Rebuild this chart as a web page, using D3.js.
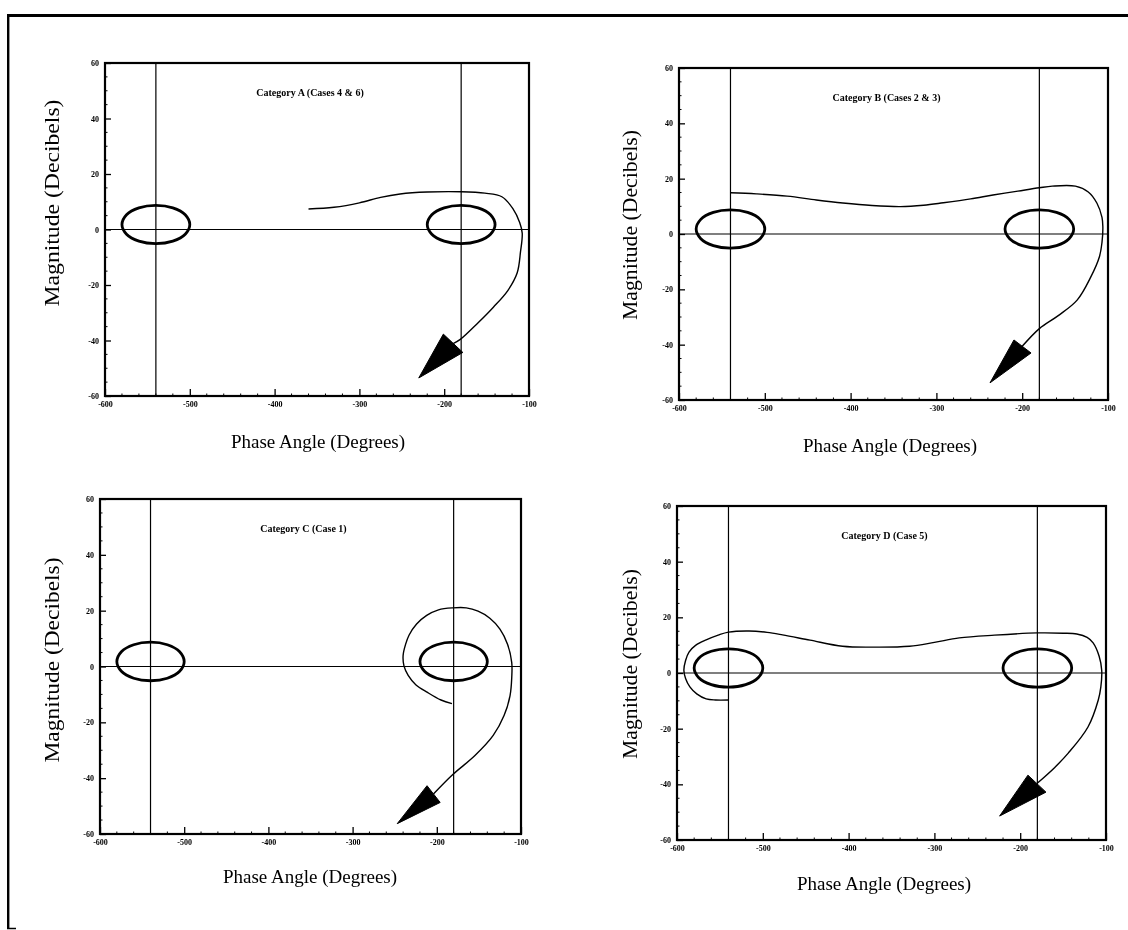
<!DOCTYPE html>
<html>
<head>
<meta charset="utf-8">
<script src="https://cdn.jsdelivr.net/npm/d3@7"></script>
<style>
  html, body { margin: 0; padding: 0; background: #fff; }
  svg { display: block; filter: grayscale(1); }
  .tick text { font-family: "Liberation Serif", "DejaVu Serif", serif; font-weight: bold; font-size: 8px; fill: #000; }
  .tick line { stroke: #000; stroke-width: 1.3; }
  .domain { display: none; }
</style>
</head>
<body>
<svg id="chart" width="1128" height="930"></svg>
<script>
// Nichols-style loci, magnitude (dB) versus phase angle (deg), four categories

const phaseTicks = [-600, -500, -400, -300, -200, -100];
const magTicks = [-60, -40, -20, 0, 20, 40, 60];
const phaseDomain = [-600, -100];
const magDomain = [-60, 60];

// reference lines at the critical phases and 0 dB
const gridPhases = [-540, -180];
const gridMags = [0];

// closed-loop M contour around each critical point, as (phase offset, dB)
const contourCenters = [-540, -180];
const mContour = [
  [-40, 1.8], [-34.6, 5.3], [-20, 7.8], [0, 8.7], [20, 7.8], [34.6, 5.3],
  [40, 1.8], [34.6, -1.7], [20, -4.2], [0, -5.1], [-20, -4.2], [-34.6, -1.7]
];

const titles = [
  "Category A (Cases 4 & 6)",
  "Category B (Cases 2 & 3)",
  "Category C (Case 1)",
  "Category D (Case 5)"
];

// open-loop loci, [phase deg, magnitude dB]
const locusA = [
  [-360, 7.4], [-330, 8.0], [-300, 9.6], [-275, 11.6], [-252, 12.8], [-220, 13.5],
  [-180, 13.6], [-152, 13.1], [-132, 11.8], [-119, 7.5], [-111, 2.5], [-108, -1.3],
  [-110, -8], [-114, -15.7], [-125, -22], [-142, -28], [-160, -33.6], [-181, -39.6],
  [-190, -41.2]
];
const locusB = [
  [-540, 14.9], [-510, 14.5], [-474, 13.7], [-440, 12.3], [-409, 11.2], [-375, 10.3],
  [-342, 9.9], [-315, 10.4], [-292, 11.3], [-260, 12.7], [-234, 14.1], [-205, 15.5],
  [-180, 16.7], [-165, 17.3], [-138, 17.3], [-123, 15.2], [-113, 11.2], [-107, 6],
  [-106, 2.6], [-107, -3], [-110, -8.2], [-120, -15.5], [-136, -23.9], [-158, -29.5],
  [-180, -34.2], [-200, -40.6]
];
const locusC = [
  [-182, -13.3], [-195, -12], [-211, -9.3], [-225, -6.5], [-234, -3.2], [-239, 0.2],
  [-240, 4], [-237, 8], [-233, 11.2], [-224, 15.2], [-212, 18.3], [-198, 20.3],
  [-181, 21], [-165, 21], [-151, 19.8], [-137, 17.3], [-125, 13.4], [-116, 8],
  [-111, 1.4], [-111, -4], [-113, -10.4], [-120, -17.5], [-133, -24.7], [-155, -32],
  [-181, -38.7], [-204, -45.7]
];
const locusD = [
  [-540, -9.7], [-555, -9.7], [-566, -9.3], [-577, -7.5], [-585, -5], [-590, -2],
  [-592, 1], [-590, 4.5], [-586, 7.5], [-578, 10], [-566, 11.9], [-552, 13.6],
  [-540, 14.7], [-516, 15.1], [-495, 14.6], [-477, 13.7], [-445, 11.8], [-407, 9.6],
  [-370, 9.3], [-329, 9.6], [-300, 11], [-271, 12.6], [-230, 13.6], [-180, 14.4],
  [-150, 14.3], [-134, 14], [-122, 12.8], [-115, 10.8], [-108, 6], [-105, 1],
  [-106, -5], [-109, -9.7], [-121, -19.4], [-144, -28.8], [-160, -34], [-180.5, -39.7]
];

// arrowheads: tip, then the two base corners
const arrowA = [[-230, -53.5], [-201, -37.7], [-178, -44.3]];
const arrowB = [[-237.5, -53.8], [-209.6, -38.3], [-189.7, -43]];
const arrowC = [[-247, -56.3], [-211.6, -42.7], [-196, -48.7]];
const arrowD = [[-224, -51.4], [-191, -36.7], [-170, -42.8]];

const loci = [locusA, locusB, locusC, locusD];
const arrows = [arrowA, arrowB, arrowC, arrowD];

// panel frames and label placement
const panels = [
  { left: 105, right: 529, top: 63, bottom: 396, yl: [52, 203, 207], xl: [318, 441] },
  { left: 679, right: 1108, top: 68, bottom: 400, yl: [630, 225, 190], xl: [890, 445] },
  { left: 100, right: 521, top: 499, bottom: 834, yl: [52, 660, 205], xl: [310, 876] },
  { left: 677, right: 1106, top: 506, bottom: 840, yl: [630, 664, 190], xl: [884, 883] }
];

const svg = d3.select("#chart");
const serif = '"Liberation Serif", "DejaVu Serif", serif';
const fmt = d => String(d);

// outer page border
svg.append("line").attr("x1", 7).attr("x2", 1128).attr("y1", 15.5).attr("y2", 15.5)
  .attr("stroke", "#000").attr("stroke-width", 3);
svg.append("line").attr("x1", 8.2).attr("x2", 8.2).attr("y1", 14).attr("y2", 929)
  .attr("stroke", "#000").attr("stroke-width", 2.4);
svg.append("line").attr("x1", 7).attr("x2", 16).attr("y1", 928.5).attr("y2", 928.5)
  .attr("stroke", "#000").attr("stroke-width", 1.5);

panels.forEach((p, i) => {
  const x = d3.scaleLinear().domain(phaseDomain).range([p.left, p.right]);
  const y = d3.scaleLinear().domain(magDomain).range([p.bottom, p.top]);
  const g = svg.append("g");

  // minor ticks
  const minorX = d3.range(phaseDomain[0] + 20, phaseDomain[1], 20).filter(v => v % 100 !== 0);
  const minorY = d3.range(magDomain[0] + 5, magDomain[1], 5).filter(v => v % 20 !== 0);
  g.selectAll(".mx").data(minorX).join("line")
    .attr("x1", d => x(d)).attr("x2", d => x(d))
    .attr("y1", p.bottom).attr("y2", p.bottom - 2.5)
    .attr("stroke", "#000").attr("stroke-width", 1);
  g.selectAll(".my").data(minorY).join("line")
    .attr("y1", d => y(d)).attr("y2", d => y(d))
    .attr("x1", p.left).attr("x2", p.left + 2.5)
    .attr("stroke", "#000").attr("stroke-width", 1);

  // axes with inward ticks
  g.append("g").attr("transform", `translate(0,${p.bottom})`)
    .call(d3.axisBottom(x).tickValues(phaseTicks).tickFormat(fmt).tickSize(-7).tickPadding(5));
  g.append("g").attr("transform", `translate(${p.left},0)`)
    .call(d3.axisLeft(y).tickValues(magTicks).tickFormat(fmt).tickSize(-6).tickPadding(6));

  // reference lines
  g.selectAll(".gv").data(gridPhases).join("line")
    .attr("x1", d => x(d)).attr("x2", d => x(d))
    .attr("y1", p.top).attr("y2", p.bottom)
    .attr("stroke", "#000").attr("stroke-width", 1.2);
  g.selectAll(".gh").data(gridMags).join("line")
    .attr("y1", d => y(d)).attr("y2", d => y(d))
    .attr("x1", p.left).attr("x2", p.right)
    .attr("stroke", "#000").attr("stroke-width", 1.2);

  // M contours
  const closed = d3.line().x(d => x(d[0])).y(d => y(d[1])).curve(d3.curveCatmullRomClosed.alpha(0.5));
  g.selectAll(".mc").data(contourCenters).join("path")
    .attr("d", c => closed(mContour.map(o => [c + o[0], o[1]])))
    .attr("fill", "none").attr("stroke", "#000").attr("stroke-width", 2.8);

  // frame
  g.append("rect").attr("x", p.left).attr("y", p.top)
    .attr("width", p.right - p.left).attr("height", p.bottom - p.top)
    .attr("fill", "none").attr("stroke", "#000").attr("stroke-width", 2.2);

  // locus
  const open = d3.line().x(d => x(d[0])).y(d => y(d[1])).curve(d3.curveCatmullRom.alpha(0.5));
  g.append("path").attr("d", open(loci[i]))
    .attr("fill", "none").attr("stroke", "#000").attr("stroke-width", 1.4);

  // arrowhead
  g.append("path")
    .attr("d", "M" + arrows[i].map(d => [x(d[0]), y(d[1])].join(",")).join("L") + "Z")
    .attr("fill", "#000").attr("stroke", "#000").attr("stroke-width", 1);

  // title
  g.append("text").attr("x", (p.left + p.right) / 2 - 7).attr("y", p.top + 33)
    .attr("text-anchor", "middle").attr("font-family", serif)
    .attr("font-weight", "bold").attr("font-size", 10).text(titles[i]);

  // axis titles
  g.append("text")
    .attr("transform", `translate(${p.yl[0]},${p.yl[1]}) rotate(-90)`)
    .attr("text-anchor", "middle").attr("dominant-baseline", "central")
    .attr("font-family", serif).attr("font-size", 20)
    .attr("textLength", p.yl[2]).attr("lengthAdjust", "spacingAndGlyphs")
    .text("Magnitude (Decibels)");
  g.append("text")
    .attr("x", p.xl[0]).attr("y", p.xl[1])
    .attr("text-anchor", "middle").attr("dominant-baseline", "central")
    .attr("font-family", serif).attr("font-size", 19)
    .text("Phase Angle (Degrees)");
});
</script>
</body>
</html>
